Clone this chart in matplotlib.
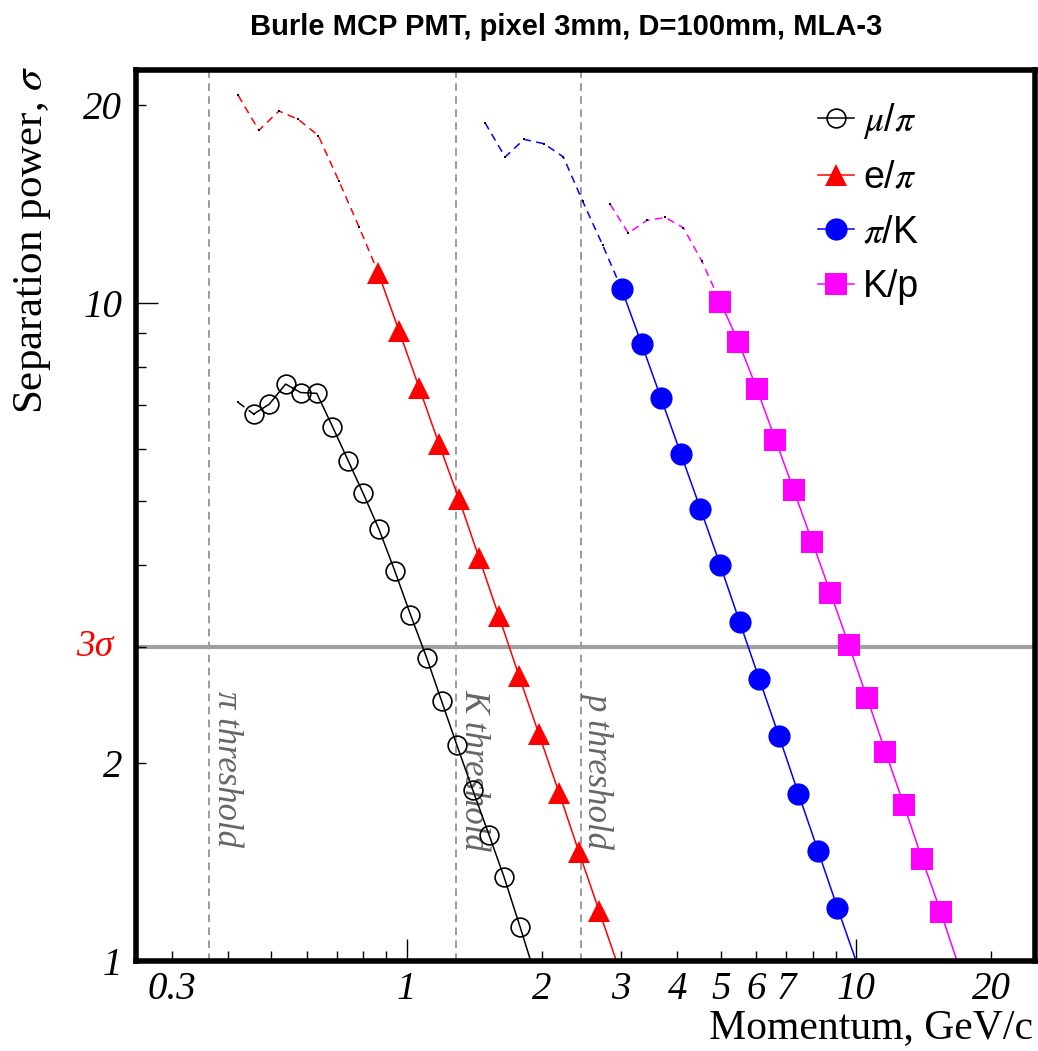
import matplotlib
matplotlib.use("Agg")
import matplotlib.pyplot as plt
from matplotlib.ticker import LogLocator, FuncFormatter
from matplotlib.lines import Line2D

plt.rcParams['font.family'] = ['Liberation Serif', 'DejaVu Serif']
plt.rcParams['font.style'] = 'italic'
plt.rcParams['mathtext.fontset'] = 'stix'

# ---------------- data (momentum GeV/c, separation power sigma) -------------
mupi_p = [0.457, 0.495, 0.538, 0.581, 0.631, 0.684, 0.742, 0.800, 0.868, 0.942,
          1.020, 1.108, 1.197, 1.293, 1.403, 1.525, 1.647, 1.788, 1.937]
mupi_s = [6.78, 7.02, 7.53, 7.31, 7.29, 6.49, 5.75, 5.14, 4.53, 3.91,
          3.36, 2.89, 2.48, 2.13, 1.82, 1.555, 1.342, 1.127, 0.946]
mupi_dash_p = [0.422, 0.457]
mupi_dash_s = [7.06, 6.78]

epi_p = [0.865, 0.962, 1.066, 1.181, 1.308, 1.449, 1.605, 1.779, 1.970, 2.184,
         2.419, 2.680, 2.969]
epi_s = [11.11, 9.07, 7.44, 6.10, 5.03, 4.10, 3.34, 2.71, 2.21, 1.80,
         1.462, 1.193, 0.973]
epi_dash_p = [0.422, 0.469, 0.520, 0.574, 0.636, 0.707, 0.784, 0.865]
epi_dash_s = [20.68, 18.30, 19.58, 19.01, 17.97, 15.32, 13.04, 11.11]

pik_p = [3.010, 3.336, 3.683, 4.074, 4.503, 4.983, 5.512, 6.093, 6.730, 7.440,
         8.230, 9.087, 10.06]
pik_s = [10.49, 8.65, 7.16, 5.90, 4.87, 4.00, 3.27, 2.68, 2.20, 1.797,
         1.470, 1.205, 0.988]
pik_dash_p = [1.494, 1.656, 1.825, 2.022, 2.232, 2.465, 2.732, 3.010]
pik_dash_s = [18.79, 16.67, 17.73, 17.46, 16.67, 14.27, 12.23, 10.49]

kp_p = [4.989, 5.472, 6.012, 6.613, 7.268, 7.982, 8.767, 9.634, 10.58, 11.62,
        12.77, 14.03, 15.43, 16.93]
kp_s = [10.03, 8.73, 7.41, 6.20, 5.19, 4.34, 3.63, 3.02, 2.51, 2.08,
        1.727, 1.427, 1.187, 0.980]
kp_dash_p = [2.836, 3.113, 3.421, 3.764, 4.128, 4.536, 4.989]
kp_dash_s = [14.13, 12.77, 13.35, 13.49, 13.01, 11.58, 10.03]

thresholds = [0.363, 1.285, 2.442]
threshold_labels = ["\u03c0 threshold", "K threshold", "p threshold"]
sigma3 = 3.0

x_tick_labels = [0.3, 1, 2, 3, 4, 5, 6, 7, 10, 20]
y_tick_labels = [1, 2, 10, 20]

legend_labels = [r"$\mu$/$\pi$", r"e/$\pi$", r"$\pi$/K", "K/p"]
title = "Burle MCP PMT, pixel 3mm, D=100mm, MLA-3"

# ---------------- figure ----------------
W, H = 1038, 1051
fig = plt.figure(figsize=(W / 100, H / 100), dpi=100)
L, R, T, B = 136, 1035, 70, 961
ax = fig.add_axes([L / W, 1 - B / H, (R - L) / W, (B - T) / H])
ax.set_xscale('log')
ax.set_yscale('log')
ax.set_xlim(0.25, 25)
ax.set_ylim(1, 22.6)

for s in ax.spines.values():
    s.set_linewidth(4)
    s.set_zorder(10)

ax.xaxis.set_major_locator(LogLocator(base=10))
ax.xaxis.set_minor_locator(LogLocator(base=10, subs=range(2, 10)))
ax.yaxis.set_major_locator(LogLocator(base=10))
ax.yaxis.set_minor_locator(LogLocator(base=10, subs=range(2, 10)))


def make_fmt(allowed):
    def f(v, pos):
        for a in allowed:
            if abs(v - a) < 1e-6 * a:
                return ('%g' % a)
        return ''
    return FuncFormatter(f)


ax.xaxis.set_major_formatter(make_fmt(x_tick_labels))
ax.xaxis.set_minor_formatter(make_fmt(x_tick_labels))
ax.yaxis.set_major_formatter(make_fmt(y_tick_labels))
ax.yaxis.set_minor_formatter(make_fmt(y_tick_labels))

ax.tick_params(which='both', direction='in', top=False, right=False,
               width=1, color='k', labelsize=28)
ax.tick_params(which='major', length=16)
ax.tick_params(which='minor', length=7)
ax.tick_params(axis='x', which='both', pad=7)
ax.tick_params(axis='y', which='both', pad=10)

# threshold lines
for th, lab in zip(thresholds, threshold_labels):
    ax.axvline(th, color='#808080', lw=1.1, ls=(0, (5, 3.5)), zorder=1)
    ax.annotate(lab, xy=(th, 0.215), xycoords=('data', 'axes fraction'),
                xytext=(13, 0), textcoords='offset points', rotation=-90,
                ha='center', va='center', color='#666666', fontsize=25)

# 3 sigma line
ax.axhline(sigma3, color='#a0a0a0', lw=3, zorder=1)
ax.text(-0.025, sigma3, "3\u03c3", color='red', ha='right', va='center',
        fontsize=27, transform=ax.get_yaxis_transform())

dash = (0, (5, 3.5))
series = [
    (mupi_p, mupi_s, mupi_dash_p, mupi_dash_s, 'black', 'o', 13.5, 'none'),
    (epi_p, epi_s, epi_dash_p, epi_dash_s, '#ff0000', '^', 16, '#ff0000'),
    (pik_p, pik_s, pik_dash_p, pik_dash_s, '#0000ff', 'o', 16, '#0000ff'),
    (kp_p, kp_s, kp_dash_p, kp_dash_s, '#ff00ff', 's', 16, '#ff00ff'),
]
handles = []
for p, s, dp, ds, c, m, ms, fc in series:
    ax.plot(dp, ds, color=c, lw=1.1, ls=dash, marker='s', ms=1.6,
            mfc='k', mec='k', mew=0, zorder=2)
    ax.plot(p, s, color=c, lw=1.1, zorder=3)
    if fc == 'none':
        ax.plot(p[:-1], s[:-1], ls='none', marker=m, ms=ms, mfc='none',
                mec=c, mew=1.2, zorder=4)
        handles.append(Line2D([], [], color=c, lw=1.1, marker=m, ms=ms,
                              mfc='none', mec=c, mew=1.2))
    else:
        ax.plot(p[:-1], s[:-1], ls='none', marker=m, ms=ms, mfc=fc,
                mec=c, mew=0, zorder=4)
        handles.append(Line2D([], [], color=c, lw=1.1, marker=m, ms=ms,
                              mfc=fc, mec=c, mew=0))

leg = ax.legend(handles, legend_labels, loc='upper left',
                bbox_to_anchor=(818 / W, 1 - 101 / H),
                bbox_transform=fig.transFigure, frameon=False,
                prop={'family': 'Liberation Sans', 'style': 'normal', 'size': 27},
                handlelength=0.95, handletextpad=0.25, labelspacing=0.5,
                borderaxespad=0, borderpad=0)
leg.set_zorder(20)

# axis titles
fig.text(1033 / W, 1 - 1028 / H, "Momentum, GeV/c", ha='right', va='center',
         fontsize=30, style='normal')
fig.text(33 / W, 1 - 66 / H, "Separation power, $\\sigma$", rotation=90,
         ha='center', va='top', fontsize=31, style='normal')

fig.text(566 / W, 1 - 27 / H, title, ha='center', va='center',
         fontsize=21, fontweight='bold', style='normal',
         family=['Liberation Sans', 'DejaVu Sans'])

fig.savefig('out.png', dpi=100)
